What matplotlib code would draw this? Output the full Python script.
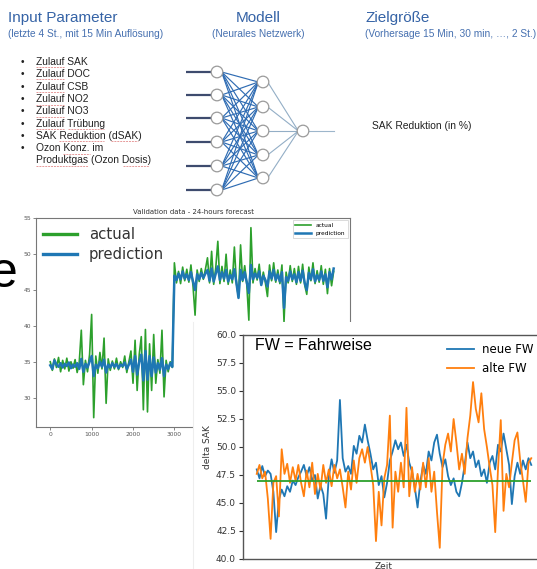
import matplotlib
matplotlib.use("Agg")
import matplotlib.pyplot as plt
from matplotlib.lines import Line2D
from matplotlib.patches import Circle
import numpy as np

# ---------------- data ----------------
# Validation chart (sample index step 50)
actual = [35.0, 33.8, 35.4, 34.2, 35.6, 33.6, 35.2, 34.0, 35.5, 33.7,
          35.0, 34.1, 35.3, 33.5, 34.9, 39.4, 31.8, 35.2, 33.6, 36.0,
          41.6, 27.2, 35.8, 33.4, 36.3, 34.0, 38.3, 29.2, 35.4, 33.8,
          35.1, 34.0, 35.5, 33.9, 35.0, 34.2, 35.8, 33.5, 35.0, 36.5,
          32.0, 38.0, 31.0, 36.0, 38.5, 28.3, 39.5, 28.0, 37.5, 31.0,
          38.8, 32.0, 35.3, 33.4, 39.4, 30.1, 35.2, 33.6, 35.0, 34.2,
          48.8, 46.0, 47.6, 45.9, 48.2, 46.3, 47.9, 46.1, 48.5, 45.6,
          41.5, 47.8, 46.2, 48.0, 46.5, 47.9, 49.5, 46.0, 50.4, 45.8,
          48.1, 51.8, 45.9, 48.3, 46.2, 50.0, 45.8, 47.8, 46.0, 51.0,
          45.9, 44.0, 51.3, 46.2, 48.4, 45.8, 40.8, 53.7, 46.0, 48.0,
          46.4, 48.6, 45.8, 47.5, 46.0, 44.1, 48.5, 46.3, 48.8, 46.1,
          47.8, 45.9, 48.5, 40.6, 47.5, 46.0, 48.4, 46.2, 48.0, 45.8,
          48.3, 46.0, 48.6, 45.7, 44.4, 48.2, 46.3, 48.8, 45.9, 47.7,
          46.1, 48.4, 45.8, 47.9, 44.5, 48.0, 45.6, 47.6]
prediction = [34.5, 34.0, 35.2, 34.6, 34.3, 34.8, 34.2, 34.7, 34.4, 34.9,
              34.1, 34.6, 34.3, 34.8, 34.0, 35.4, 33.6, 34.7, 34.2, 35.0,
              35.8, 33.0, 34.6, 34.1, 35.0, 34.3, 35.3, 33.5, 34.6, 34.2,
              34.8, 34.3, 34.7, 34.1, 34.6, 34.4, 34.9, 34.0, 34.6, 35.3,
              33.6, 35.8, 33.2, 35.0, 36.0, 32.4, 36.5, 32.5, 35.8, 33.0,
              35.6, 33.5, 34.8, 33.9, 35.5, 33.0, 34.6, 34.0, 34.8, 34.3,
              47.0, 46.4, 47.3, 46.5, 47.6, 46.6, 47.2, 46.4, 47.5, 46.2,
              45.0, 47.2, 46.5, 47.4, 46.7, 47.3, 47.8, 46.3, 48.0, 46.2,
              47.3, 48.3, 46.4, 47.5, 46.6, 47.8, 46.2, 47.1, 46.5, 47.9,
              46.0, 43.9, 47.8, 46.4, 47.5, 46.1, 44.6, 48.5, 46.5, 47.3,
              46.7, 47.6, 45.7, 47.0, 46.4, 45.5, 47.6, 46.6, 47.8, 46.4,
              47.2, 46.2, 47.5, 42.5, 46.8, 46.3, 47.6, 46.5, 47.2, 46.1,
              47.5, 46.3, 47.7, 46.0, 45.0, 47.4, 46.5, 47.9, 46.2, 47.1,
              46.4, 47.6, 46.3, 47.2, 45.4, 47.5, 46.5, 48.0]
sample_step = 50

# delta SAK chart
neue_fw = [48.0, 47.2, 48.3, 47.4, 47.9, 47.6, 46.0, 42.4, 45.3, 46.2,
           45.6, 46.5, 46.0, 47.0, 46.6, 47.3, 47.8, 48.4, 47.4, 48.2,
           47.0, 47.5, 45.4, 46.6, 45.8, 43.6, 47.4, 48.9, 47.7, 48.8,
           54.2, 49.0, 47.8, 48.3, 47.6, 50.1, 49.4, 51.0, 50.4, 52.0,
           50.6, 49.4, 48.0, 48.6, 46.6, 47.4, 45.5, 46.8, 48.8, 49.6,
           50.6, 49.8, 50.4, 49.2, 50.2, 48.6, 47.8, 46.4, 44.6, 46.9,
           48.4, 47.6, 49.6, 48.8, 50.4, 51.1, 49.4, 48.2, 48.9, 47.4,
           46.6, 47.2, 46.0, 45.6, 46.8, 48.4, 50.4, 49.0, 49.6, 48.2,
           48.8, 47.4, 48.0, 46.8, 48.6, 49.2, 48.0, 50.2, 49.6, 51.2,
           49.8, 48.4, 44.9, 47.4, 48.6, 47.6, 48.8, 48.0, 49.0, 48.4]
alte_fw = [47.6, 48.4, 47.2, 47.8, 45.4, 41.8, 46.8, 47.4, 43.8, 49.8,
           47.6, 48.5, 46.8, 48.2, 47.0, 48.4, 46.8, 45.6, 47.9, 46.4,
           48.6, 45.8, 47.6, 46.2, 48.4, 46.8, 48.0, 46.5, 48.4, 47.2,
           48.0, 46.4, 44.6, 47.8, 46.2, 48.8, 46.8, 49.0, 49.8, 48.6,
           50.0, 48.4, 46.6, 41.6, 46.0, 43.0, 47.2, 48.4, 52.8, 42.8,
           47.8, 46.0, 48.6, 46.4, 53.5, 45.6, 48.2, 46.0, 47.6, 46.2,
           48.6, 46.4, 49.0, 46.0, 47.8, 44.2, 41.0, 48.4, 50.2, 51.2,
           49.6, 52.5, 50.4, 48.0, 49.4, 47.6, 50.8, 52.8, 55.8, 53.4,
           52.2, 54.8, 51.6, 50.0, 48.2, 46.6, 42.4, 48.0, 52.4, 44.3,
           47.6, 46.4, 48.6, 50.6, 51.3, 48.8, 47.0, 45.1, 48.6, 49.0]
reference_level = 47.0

input_params = ["Zulauf SAK", "Zulauf DOC", "Zulauf CSB", "Zulauf NO2",
                "Zulauf NO3", "Zulauf Trübung", "SAK Reduktion (dSAK)",
                "Ozon Konz. im\nProduktgas (Ozon Dosis)"]

# ---------------- figure ----------------
W, H = 537, 569
fig = plt.figure(figsize=(W / 100, H / 100), dpi=100)
fig.patch.set_facecolor("white")


def box(l, t, r, b):
    return [l / W, 1 - b / H, (r - l) / W, (b - t) / H]


def fx(x):
    return x / W


def fy(y):
    return 1 - y / H


ARIAL = "Liberation Sans"
TBLUE = "#3563a6"
SBLUE = "#4670b0"
GREEN = "#2ca02c"
BLUE = "#1f77b4"
ORANGE = "#ff7f0e"

# background axes in pixel coordinates
bg = fig.add_axes([0, 0, 1, 1], zorder=0)
bg.set_xlim(0, W)
bg.set_ylim(H, 0)
bg.axis("off")

# headings
bg.text(8, 18, "Input Parameter", fontsize=11, color=TBLUE, family=ARIAL, va="center")
bg.text(8, 34, "(letzte 4 St., mit 15 Min Auflösung)", fontsize=7.3, color=SBLUE,
        family=ARIAL, va="center")
bg.text(258, 18, "Modell", fontsize=11, color=TBLUE, family=ARIAL, va="center", ha="center")
bg.text(258, 34, "(Neurales Netzwerk)", fontsize=7.3, color=SBLUE, family=ARIAL,
        va="center", ha="center")
bg.text(365, 18, "Zielgröße", fontsize=11, color=TBLUE, family=ARIAL, va="center")
bg.text(365, 34, "(Vorhersage 15 Min, 30 min, \u2026, 2 St.)", fontsize=7.3,
        color=SBLUE, family=ARIAL, va="center")

# bullet list
row_y = 62
for item in input_params:
    lines = item.split("\n")
    bg.text(22, row_y, "\u2022", fontsize=7.4, color="#222222", family=ARIAL,
            va="center", ha="center")
    for ln in lines:
        bg.text(36, row_y, ln, fontsize=7.4, color="#222222", family=ARIAL, va="center")
        row_y += 12.3

# spell-check style underlines
underlines = [(36, 64, 67), (36, 64, 79), (36, 64, 92), (36, 64, 105), (36, 64, 117),
              (36, 64, 129), (68, 104, 129), (59, 104, 141), (111, 138, 141),
              (63, 90, 154), (36, 88, 166), (123, 149, 166)]
for x0, x1, yy in underlines:
    bg.plot([x0, x1], [yy, yy], color="#e79a9a", lw=0.7, ls=(0, (2, 1)))

# neural network diagram
r = 5.8
inp_y = [72, 95, 118, 142, 166, 190]
hid_y = [82, 107, 131, 155, 178]
out_y = 131
xi, xh, xo = 217, 263, 303
for yi in inp_y:
    bg.plot([186, xi - r], [yi, yi], color="#3e4b6e", lw=1.6, solid_capstyle="butt")
    for yh in hid_y:
        bg.plot([xi + r * 0.8, xh - r * 0.8], [yi, yh], color="#2f6cb3", lw=0.85)
for yh in hid_y:
    bg.plot([xh + r * 0.8, xo - r * 0.8], [yh, out_y], color="#93aec6", lw=0.8)
bg.plot([xo + r, 334], [out_y, out_y], color="#9db6cb", lw=0.8)
for yi in inp_y:
    bg.add_patch(Circle((xi, yi), r, facecolor="white", edgecolor="#9a9a9a", lw=0.9, zorder=3))
for yh in hid_y:
    bg.add_patch(Circle((xh, yh), r, facecolor="white", edgecolor="#9a9a9a", lw=0.9, zorder=3))
bg.add_patch(Circle((xo, out_y), r, facecolor="white", edgecolor="#9a9a9a", lw=0.9, zorder=3))
bg.text(372, 126, "SAK Reduktion (in %)", fontsize=7.4, color="#222222", family=ARIAL,
        va="center")

# cropped letter on the left
bg.text(4, 274, "e", fontsize=36, color="black", family=ARIAL, va="center", ha="center")

# ---------------- validation chart ----------------
axL = fig.add_axes(box(36, 218, 350, 427), zorder=1)
xs = np.arange(len(actual)) * sample_step
la, = axL.plot(xs, actual, color=GREEN, lw=1.2, label="actual")
lp, = axL.plot(np.arange(len(prediction)) * sample_step, prediction, color=BLUE, lw=1.8,
               label="prediction")
axL.set_xlim(-345, 7245)
axL.set_ylim(25.9, 55.05)
axL.set_xticks([0, 1000, 2000, 3000])
axL.set_yticks([30, 35, 40, 45, 50, 55])
axL.tick_params(labelsize=4.3, length=2, width=0.5, colors="#555555", pad=1.5)
for s in axL.spines.values():
    s.set_color("#777777")
    s.set_linewidth(0.8)
axL.set_title("Validation data - 24-hours forecast", fontsize=5, pad=3, color="#333333")
small = axL.legend(loc="upper right", fontsize=4.2, handlelength=2.8, framealpha=1,
                   edgecolor="#cccccc", borderaxespad=0.4, fancybox=False)
small.get_frame().set_linewidth(0.5)
axL.add_artist(small)
big = axL.legend(handles=[Line2D([], [], color=GREEN, lw=2.4),
                          Line2D([], [], color=BLUE, lw=2.4)],
                 labels=["actual", "prediction"], fontsize=10.7, frameon=False,
                 loc="upper left", bbox_to_anchor=(fx(43), fy(227)),
                 bbox_transform=fig.transFigure, borderaxespad=0, borderpad=0,
                 handlelength=2.3, handletextpad=0.8, labelspacing=0.35)
for t in big.get_texts():
    t.set_color("#333333")

# white pasted area
cover = fig.add_axes(box(193, 322, 537, 569), zorder=2)
cover.set_facecolor("white")
cover.set_xticks([])
cover.set_yticks([])
for s in cover.spines.values():
    s.set_visible(False)
cover.spines["left"].set_visible(True)
cover.spines["left"].set_color("#eeeeee")

# ---------------- delta SAK chart ----------------
axR = fig.add_axes(box(243, 335, 545, 559), zorder=3)
xr = np.arange(len(neue_fw))
axR.plot(xr, neue_fw, color=BLUE, lw=1.3, label="neue FW")
axR.plot(np.arange(len(alte_fw)), alte_fw, color=ORANGE, lw=1.3, label="alte FW")
axR.hlines(reference_level, xr[0], xr[-1], color=GREEN, lw=1.3)
axR.set_ylim(40, 60)
axR.set_yticks([40, 42.5, 45, 47.5, 50, 52.5, 55, 57.5, 60])
axR.set_yticklabels([f"{v:.1f}" for v in [40, 42.5, 45, 47.5, 50, 52.5, 55, 57.5, 60]])
axR.set_xticks([])
axR.tick_params(labelsize=6.5, length=3, width=0.8, colors="#333333", pad=2)
for s in axR.spines.values():
    s.set_color("#555555")
    s.set_linewidth(1.0)
axR.set_ylabel("delta SAK", fontsize=6.5, color="#333333", labelpad=3)
axR.set_xlabel("Zeit", fontsize=6.5, color="#333333")
axR.xaxis.set_label_coords((384 - 243) / 302, -0.015)
axR.legend(loc="upper right", bbox_to_anchor=(fx(533), fy(343)),
           bbox_transform=fig.transFigure, fontsize=8.5, frameon=False,
           borderaxespad=0, borderpad=0, handlelength=2.3, handletextpad=0.6,
           labelspacing=0.55)
axR.text(fx(255), fy(346), "FW = Fahrweise", transform=fig.transFigure,
         fontsize=11.5, family=ARIAL, color="black", va="center")

fig.savefig("out.png", dpi=100, facecolor="white")
